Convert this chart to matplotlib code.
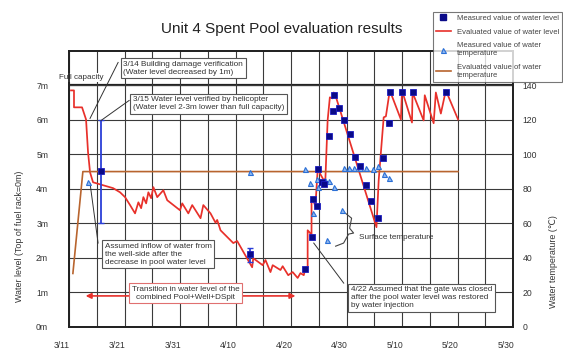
import matplotlib
matplotlib.use('Agg')
import matplotlib.pyplot as plt
import matplotlib.transforms as mtransforms
from matplotlib.lines import Line2D

plt.rcParams['font.family'] = ['Liberation Sans', 'DejaVu Sans']

# days counted from 3/11
date_labels = ['3/11', '3/21', '3/31', '4/10', '4/20', '4/30', '5/10', '5/20', '5/30']
date_ticks = [0, 10, 20, 30, 40, 50, 60, 70, 80]

# evaluated water level (m above top of fuel rack)
eval_day = [0.36, 0.9, 0.9, 2.35, 3.07, 3.43, 3.79, 4.33, 5.6, 7.95, 9.2, 10.1, 11.0, 11.9,
            12.5, 13.0, 13.4, 13.9, 14.3, 14.8, 15.2, 15.9, 17.0, 17.7, 20.0, 20.4, 21.5,
            22.2, 23.7, 24.2, 25.5, 26.4, 26.7, 27.3, 29.6, 30.3, 33.0, 33.2, 34.9, 35.4,
            36.3, 36.7, 38.1, 38.5, 39.5, 40.3, 41.2, 41.7, 42.3, 42.6, 43.0, 43.0, 43.3,
            43.7, 43.7, 43.9, 44.2, 44.4, 44.8, 45.1, 45.9, 46.2, 46.6, 47.0, 47.5, 47.7,
            48.0, 55.4, 55.8, 56.7, 57.1, 57.8, 59.8, 60.0, 61.8, 61.9, 63.9, 64.1, 65.7,
            66.1, 67.0, 67.9, 70.1]
eval_level = [6.85, 6.85, 6.36, 6.36, 6.01, 5.06, 4.48, 4.19, 4.13, 4.02, 3.90, 3.76, 3.53, 3.29,
              3.61, 3.44, 3.76, 3.58, 3.90, 3.73, 4.05, 3.76, 3.96, 3.67, 3.38, 3.58, 3.29,
              3.53, 3.15, 3.53, 3.29, 3.02, 3.10, 2.80, 2.43, 2.49, 1.73, 1.99, 1.79, 1.94,
              1.59, 1.79, 1.65, 1.76, 1.50, 1.59, 1.42, 1.56, 1.50, 1.71, 1.73, 2.80, 2.75,
              2.66, 3.67, 3.73, 3.58, 3.50, 4.54, 4.48, 4.25, 4.30, 5.98, 6.65, 6.62, 6.79,
              6.71, 2.89, 4.25, 6.07, 6.10, 6.85, 6.01, 6.85, 5.92, 6.79, 5.98, 6.71, 5.90,
              6.79, 6.18, 6.85, 6.01]

# measured water level
meas_day = [5.78, 32.7, 42.6, 43.7, 43.9, 44.6, 44.8, 45.6, 46.0, 46.8, 47.5, 47.7, 48.6,
            49.5, 50.6, 51.6, 52.5, 53.6, 54.5, 55.6, 56.5, 57.6, 57.8, 60.0, 61.9, 67.9]
meas_level = [4.51, 2.11, 1.68, 2.60, 3.70, 3.50, 4.57, 4.20, 4.13, 5.52, 6.24, 6.71, 6.33,
              5.98, 5.58, 4.91, 4.65, 4.10, 3.64, 3.15, 4.88, 5.90, 6.79, 6.79, 6.79, 6.79]
err_day = [5.78, 32.7]
err_level = [4.51, 2.11]
err_low = [1.51, 0.23]
err_high = [1.49, 0.19]

# measured water temperature (deg C)
temp_day = [3.4, 32.7, 42.6, 43.5, 43.9, 44.6, 44.8, 46.2, 46.8, 47.7, 46.4, 49.1, 49.5,
            50.5, 51.4, 52.5, 53.6, 54.7, 55.6, 56.7, 57.6]
temp_val = [84, 90, 91.6, 83.5, 66, 85.8, 81.2, 85.2, 84.6, 81.2, 50.4, 67.8, 92.2,
            92.2, 92.2, 92.2, 92.2, 91.6, 93.3, 88.7, 86.4]

# evaluated water temperature
eval_temp_day = [0.7, 2.5, 70.1]
eval_temp = [31, 90, 90]

red = '#e8302a'
brown = '#b8642e'
navy = '#0a0a88'
tri_blue = '#2a6fd6'
grid_c = '#3a3a3a'

fig = plt.figure(figsize=(5.63, 3.51), dpi=100)
ax = fig.add_axes([69 / 563, 1 - 327 / 351, 444 / 563, 276.3 / 351])
ax2 = ax.twinx()

ax.set_xlim(0, 80)
ax.set_ylim(0, 8)
ax2.set_ylim(0, 160)

# grid
ax.set_xticks(range(0, 81, 5), minor=True)
ax.set_xticks(date_ticks)
ax.set_xticklabels(date_labels)
ax.set_yticks(range(0, 8))
ax.set_yticklabels([f'{v}m' for v in range(0, 8)])
ax.grid(True, which='both', color=grid_c, lw=0.8)
ax.axhline(7, color='#222222', lw=1.6, zorder=1)
ax.tick_params(which='both', length=0, labelsize=6.2, colors='#333333')
ax.tick_params(axis='y', pad=15)
ax.tick_params(axis='x', pad=10)
shift = mtransforms.ScaledTranslation(-0.07, 0, fig.dpi_scale_trans)
for lab in ax.get_xticklabels():
    lab.set_transform(lab.get_transform() + shift)

ax2.set_yticks(range(0, 141, 20))
ax2.tick_params(length=0, labelsize=6.2, colors='#333333', pad=7)
for a in (ax, ax2):
    for s in a.spines.values():
        s.set_color('#222222')
        s.set_linewidth(1.3)

# series
ax2.plot(eval_temp_day, eval_temp, color=brown, lw=1.2, zorder=2)
ax.plot(eval_day, eval_level, color=red, lw=1.25, zorder=3)
ax.errorbar(err_day, err_level, yerr=[err_low, err_high], fmt='none',
            ecolor='#2b3fd8', elinewidth=1.3, capsize=2.5, capthick=1.0, zorder=4)
ax2.plot(temp_day, temp_val, ls='none', marker='^', ms=3.6, mfc='#8fb8f0',
         mec=tri_blue, mew=0.8, zorder=5)
ax2.plot(meas_day, [v * 20 for v in meas_level], ls='none', marker='s',
         ms=4.2, color=navy, mec='#1c1cc0', mew=0.6, zorder=6)

# annotations
note = dict(fontsize=5.9, color='#333333', linespacing=1.2, zorder=8)
box = dict(boxstyle='square,pad=0.3', fc='white', ec='#555555', lw=0.8)
lead = dict(color='#333333', lw=0.7, zorder=7, clip_on=False)

ax.text(2.17, 7.23, 'Full capacity', ha='center', va='center', fontsize=5.8, color='#333333',
        bbox=dict(boxstyle='square,pad=0.1', fc='white', ec='none'), zorder=8, clip_on=False)

ax.plot([8.85, 3.79], [7.66, 6.04], **lead)
ax.text(9.8, 7.49, '3/14 Building damage verification\n(Water level decreased by 1m)',
        ha='left', va='center', bbox=box, **note)

ax.plot([10.84, 5.78], [6.56, 5.98], **lead)
ax.text(11.5, 6.47, '3/15 Water level verified by helicopter\n(Water level 2-3m lower than full capacity)',
        ha='left', va='center', bbox=box, **note)

ax.plot([5.24, 3.79], [2.43, 4.16], **lead)
ax.text(6.4, 2.11, 'Assumed inflow of water from\nthe well-side after the\ndecrease in pool water level',
        ha='left', va='center', bbox=box, **note)

ax.annotate('', xy=(2.5, 0.9), xytext=(41.3, 0.9),
            arrowprops=dict(arrowstyle='<|-|>', color=red, lw=1.2, mutation_scale=8), zorder=7)
ax.text(21.0, 0.98, 'Transition in water level of the\ncombined Pool+Well+DSpit',
        ha='center', va='center', bbox=dict(boxstyle='square,pad=0.3', fc='white', ec='#e07070', lw=0.8),
        **note)

ax.plot([49.5, 44.1], [1.27, 2.43], **lead)
ax.text(50.8, 0.84, '4/22 Assumed that the gate was closed\nafter the pool water level was restored\nby water injection',
        ha='left', va='center', bbox=box, **note)

ax.plot([49.84, 50.92, 50.56, 51.28, 50.38, 49.48, 48.04],
        [3.29, 3.15, 2.86, 2.72, 2.69, 2.43, 2.34], color='#444444', lw=0.8, zorder=7)
ax.text(58.9, 2.60, 'Surface temperature', ha='center', va='center', fontsize=5.9,
        color='#333333', zorder=8)

fig.text(281.5 / 563, 1 - 29 / 351, 'Unit 4 Spent Pool evaluation results',
         ha='center', va='center', fontsize=11, color='#222222')
fig.text(20 / 563, 1 - 236 / 351, 'Water level (Top of fuel rack=0m)', rotation=90,
         ha='center', va='center', fontsize=6.4, color='#333333')
fig.text(553 / 563, 1 - 262 / 351, 'Water temperature (\u2103)', rotation=90,
         ha='center', va='center', fontsize=6.4, color='#333333')

handles = [
    Line2D([], [], ls='none', marker='s', ms=4.2, color=navy),
    Line2D([], [], color=red, lw=1.2),
    Line2D([], [], ls='none', marker='^', ms=3.6, mfc='#8fb8f0', mec=tri_blue, mew=0.8),
    Line2D([], [], color=brown, lw=1.2),
]
labels = ['Measured value of water level', 'Evaluated value of water level',
          'Measured value of water\ntemperature', 'Evaluated value of water\ntemperature']
leg = fig.legend(handles, labels, loc='upper left', bbox_to_anchor=(433 / 563, 1 - 12 / 351),
                 fontsize=5.5, frameon=True, fancybox=False, edgecolor='#555555',
                 handlelength=2.0, handletextpad=0.8, labelspacing=0.85, borderpad=0.35,
                 borderaxespad=0)
leg.get_frame().set_linewidth(0.8)
for t in leg.get_texts():
    t.set_color('#444444')

fig.savefig('out.png', dpi=100)
